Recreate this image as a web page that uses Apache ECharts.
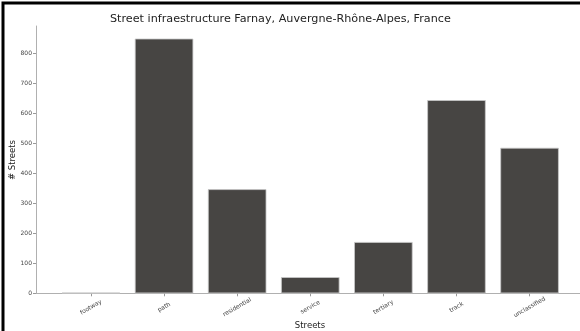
<!DOCTYPE html>
<html>
<head>
<meta charset="utf-8">
<script src="https://cdn.jsdelivr.net/npm/echarts@6/dist/echarts.min.js"></script>
<style>
html,body{margin:0;padding:0;background:#fff;}
#chart{width:580px;height:331px;}
</style>
</head>
<body>
<div id="chart"></div>
<script>
const categories = ["footway", "path", "residential", "service", "tertiary", "track", "unclassified"];
const streetCounts = [2, 849, 347, 54, 171, 644, 485];
const yTicks = [0, 100, 200, 300, 400, 500, 600, 700, 800];
const titleText = "Street infraestructure Farnay, Auvergne-Rhône-Alpes, France";
const xName = "Streets";
const yName = "# Streets";

const chart = echarts.init(document.getElementById('chart'), null, {renderer: 'canvas'});
const idx = categories.map((c, i) => i);
const font = 'DejaVu Sans';
chart.setOption({
  animation: false,
  backgroundColor: '#fff',
  textStyle: {fontFamily: font},
  grid: {left: 36, right: 0, top: 26, bottom: 37.7, containLabel: false, outerBoundsMode: 'none'},
  graphic: [
    {type: 'polyline', shape: {points: [[3, 331], [3, 3], [580, 3]]}, style: {stroke: '#000', lineWidth: 3, fill: 'none'}},
    {type: 'text', left: 280 - 170, top: 14, style: {text: titleText, fontSize: 11.2, fontFamily: font, fill: '#222'}},
    {type: 'text', x: 310, y: 326, style: {text: xName, fontSize: 8.5, fontFamily: font, fill: '#222', align: 'center', verticalAlign: 'middle'}},
    {type: 'text', x: 13, y: 160, rotation: Math.PI / 2, style: {text: yName, fontSize: 8.5, fontFamily: font, fill: '#222', align: 'center', verticalAlign: 'middle'}}
  ],
  xAxis: {
    type: 'value', min: -0.752, max: 6.69,
    axisLine: {show: true, onZero: false, lineStyle: {color: '#b0b0b0', width: 1}},
    axisTick: {show: true, length: 3, lineStyle: {color: '#999'}, customValues: idx},
    axisLabel: {
      customValues: idx, formatter: v => categories[Math.round(v)],
      rotate: 30, align: 'center', verticalAlign: 'middle', margin: 14,
      fontSize: 6, color: '#444', fontFamily: font
    },
    splitLine: {show: false}
  },
  yAxis: {
    type: 'value', min: 0, max: 891,
    axisLine: {show: true, onZero: false, lineStyle: {color: '#b0b0b0', width: 1}},
    axisTick: {show: true, length: 3, lineStyle: {color: '#999'}, customValues: yTicks},
    axisLabel: {customValues: yTicks, fontSize: 6, color: '#444', margin: 4, fontFamily: font},
    splitLine: {show: false}
  },
  series: [{
    type: 'bar',
    data: streetCounts.map((v, i) => [i, v]),
    barWidth: 58.5,
    itemStyle: {color: '#474543', borderColor: '#c8c8c8', borderWidth: 0.8}
  }]
});
</script>
</body>
</html>
